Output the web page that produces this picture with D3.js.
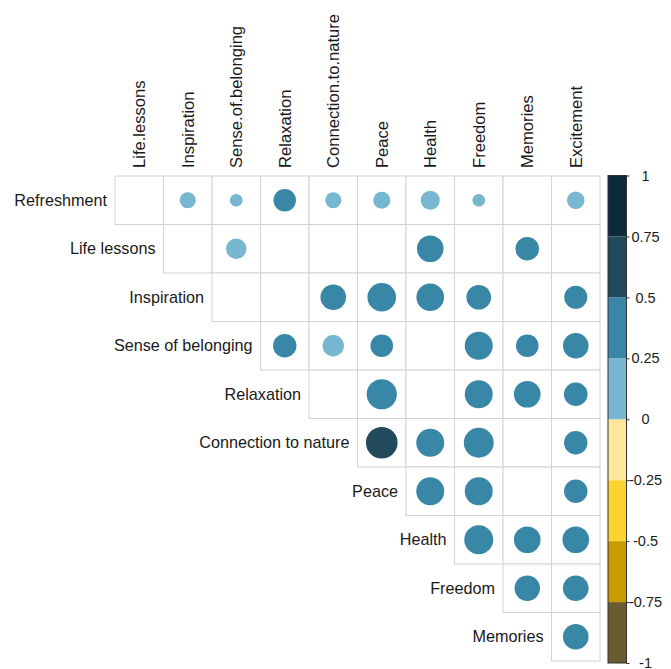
<!DOCTYPE html>
<html>
<head>
<meta charset="utf-8">
<script src="https://cdn.jsdelivr.net/npm/d3@7"></script>
<style>
  body { margin: 0; background: #ffffff; }
  text { font-family: "Liberation Sans", Arial, sans-serif; fill: #1a1a1a; }
</style>
</head>
<body>
<div id="container"></div>
<script>
/* DATA */
const rowLabels = ["Refreshment", "Life lessons", "Inspiration", "Sense of belonging", "Relaxation",
  "Connection to nature", "Peace", "Health", "Freedom", "Memories"];
const colLabels = ["Life.lessons", "Inspiration", "Sense.of.belonging", "Relaxation", "Connection.to.nature",
  "Peace", "Health", "Freedom", "Memories", "Excitement"];

// correlations, row by row, one value per column (null = blank cell)
const refreshment   = [null, 0.135, 0.084, 0.264, 0.135, 0.152, 0.19, 0.084, null, 0.159];
const lifeLessons   = [null, null, 0.219, null, null, null, 0.372, null, 0.293, null];
const inspiration   = [null, null, null, null, 0.345, 0.43, 0.40, 0.318, null, 0.278];
const belonging     = [null, null, null, 0.288, 0.24, 0.269, null, 0.412, 0.269, 0.345];
const relaxation    = [null, null, null, null, null, 0.48, null, 0.41, 0.372, 0.293];
const connection    = [null, null, null, null, null, 0.525, 0.41, 0.47, null, 0.288];
const peace         = [null, null, null, null, null, null, 0.41, 0.41, null, 0.288];
const health        = [null, null, null, null, null, null, null, 0.44, 0.372, 0.372];
const freedom       = [null, null, null, null, null, null, null, null, 0.34, 0.345];
const memories      = [null, null, null, null, null, null, null, null, null, 0.345];
const matrix = [refreshment, lifeLessons, inspiration, belonging, relaxation,
  connection, peace, health, freedom, memories];

const legendTicks = [1, 0.75, 0.5, 0.25, 0, -0.25, -0.5, -0.75, -1];
const palette = ["#6b5c30", "#c89b00", "#fdd332", "#fee79b", "#77b7cf", "#3987a6", "#224a5c", "#0c2b3c"];

/* CONSTANTS */
const width = 671;
const height = 669;
const gridLeft = 115, gridRight = 600, gridTop = 176, gridBottom = 661;

const svg = d3.select("#container")
  .append("svg")
  .attr("width", width)
  .attr("height", height);

/* SCALES */
const xScale = d3.scaleBand().domain(colLabels).range([gridLeft, gridRight]);
const yScale = d3.scaleBand().domain(rowLabels).range([gridTop, gridBottom]);
const rScale = d3.scaleSqrt().domain([0, 1]).range([0, 0.45 * xScale.bandwidth()]);
const colorScale = d3.scaleQuantize().domain([-1, 1]).range(palette);

// upper triangle cells
const cells = [];
matrix.forEach((row, i) => {
  row.forEach((v, j) => {
    if (j >= i) cells.push({ row: rowLabels[i], col: colLabels[j], value: v });
  });
});

svg.selectAll(".cell")
  .data(cells)
  .join("rect")
  .attr("class", "cell")
  .attr("x", d => xScale(d.col))
  .attr("y", d => yScale(d.row))
  .attr("width", xScale.bandwidth())
  .attr("height", yScale.bandwidth())
  .attr("fill", "#ffffff")
  .attr("stroke", "#d3d3d3")
  .attr("stroke-width", 1);

svg.selectAll(".dot")
  .data(cells.filter(d => d.value !== null))
  .join("circle")
  .attr("class", "dot")
  .attr("cx", d => xScale(d.col) + xScale.bandwidth() / 2)
  .attr("cy", d => yScale(d.row) + yScale.bandwidth() / 2)
  .attr("r", d => rScale(Math.abs(d.value)))
  .attr("fill", d => colorScale(d.value));

// row labels, right aligned before the first cell of each row
svg.selectAll(".row-label")
  .data(rowLabels)
  .join("text")
  .attr("class", "row-label")
  .attr("x", (d, i) => xScale(colLabels[i]) - 8)
  .attr("y", d => yScale(d) + yScale.bandwidth() / 2)
  .attr("dy", "0.35em")
  .attr("text-anchor", "end")
  .style("font-size", "16.2px")
  .text(d => d);

// column labels, rotated
svg.selectAll(".col-label")
  .data(colLabels)
  .join("text")
  .attr("class", "col-label")
  .attr("transform", d => `translate(${xScale(d) + xScale.bandwidth() / 2},${gridTop - 8}) rotate(-90)`)
  .attr("dy", "0.35em")
  .attr("text-anchor", "start")
  .style("font-size", "16.6px")
  .text(d => d);

/* COLOUR LEGEND */
const legendX = 608, legendW = 18.5;
const legendScale = d3.scaleLinear().domain([-1, 1]).range([663, 175.5]);
const bins = palette.map((c, i) => ({ lo: -1 + i * 0.25, hi: -1 + (i + 1) * 0.25, color: c }));

svg.selectAll(".bin")
  .data(bins)
  .join("rect")
  .attr("class", "bin")
  .attr("x", legendX)
  .attr("y", d => legendScale(d.hi))
  .attr("width", legendW)
  .attr("height", d => legendScale(d.lo) - legendScale(d.hi))
  .attr("fill", d => d.color);

svg.append("rect")
  .attr("x", legendX)
  .attr("y", legendScale(1))
  .attr("width", legendW)
  .attr("height", legendScale(-1) - legendScale(1))
  .attr("fill", "none")
  .attr("stroke", "#333333")
  .attr("stroke-width", 1);

const legendAxis = svg.append("g")
  .attr("class", "legend-axis")
  .attr("transform", `translate(${legendX + legendW},0)`)
  .call(d3.axisRight(legendScale)
    .tickValues(legendTicks)
    .tickSize(3)
    .tickFormat(d => String(d)));

legendAxis.select(".domain").remove();
legendAxis.selectAll(".tick line").attr("stroke", "#333333");
legendAxis.selectAll(".tick text")
  .attr("x", 19)
  .attr("text-anchor", "middle")
  .style("font-size", "14.5px")
  .style("font-family", "'Liberation Sans', Arial, sans-serif")
  .attr("fill", "#1a1a1a");
</script>
</body>
</html>
